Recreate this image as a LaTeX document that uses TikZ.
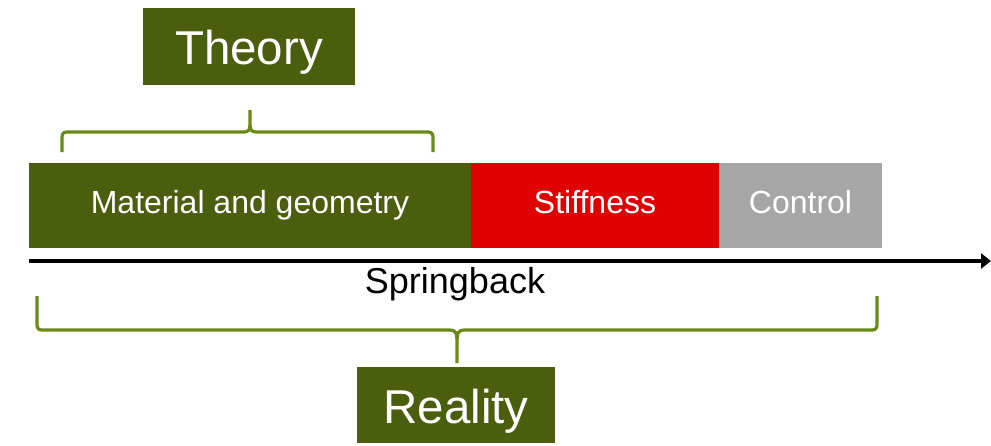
\documentclass[tikz,border=0pt]{standalone}
\usepackage{fontspec}
\setmainfont{Liberation Sans}
\usetikzlibrary{arrows.meta}
\definecolor{olivebox}{HTML}{4A5E0E}
\definecolor{olivebrace}{HTML}{6A8A16}
\definecolor{stiffred}{HTML}{E00000}
\definecolor{ctrlgray}{HTML}{A6A6A6}
\begin{document}
\begin{tikzpicture}[x=1pt,y=-1pt,
  bar/.style={rectangle, inner sep=0pt, minimum height=85pt, text=white,
    text height=15pt, text depth=0pt,
    font=\fontsize{32}{36}\selectfont},
  label/.style={rectangle, fill=olivebox, inner sep=0pt, text=white,
    text depth=0pt, font=\fontsize{47.5}{52}\selectfont},
  brace/.style={draw=olivebrace, line width=3.2pt, line cap=butt, line join=round},
  axis/.style={draw=black, line width=4pt, -{Triangle[length=10pt,width=15pt]}}]
  \useasboundingbox (0,0) rectangle (991,445);

  % the three stages along the process
  \node[bar, fill=olivebox, minimum width=442pt] (mat) at (250,205.5) {Material and geometry};
  \node[bar, fill=stiffred, minimum width=248pt] (stf) at (595,205.5) {Stiffness};
  \node[bar, fill=ctrlgray, minimum width=163pt] (ctl) at (800.5,205.5) {Control};

  % time axis
  \coordinate (ax0) at (29,261);
  \coordinate (ax1) at (991,261);
  \draw[axis] (ax0) -- (ax1);
  \node[anchor=base, inner sep=0pt, font=\fontsize{36}{40}\selectfont] (spr) at (455,293) {Springback};

  % labels
  \node[label, minimum width=212pt, minimum height=77pt, text height=35pt] (thy) at (249,46.5) {Theory};
  \node[label, minimum width=198pt, minimum height=76pt, text height=36pt] (rea) at (456,405) {Reality};

  % upper brace (theory span)
  \draw[brace] (62,152) -- (62,138) .. controls (62,134) and (63,132) .. (67,132)
    -- (244,132) .. controls (248,132) and (250,130) .. (250,125) -- (250,110);
  \draw[brace] (433,152) -- (433,138) .. controls (433,134) and (432,132) .. (428,132)
    -- (256,132) .. controls (252,132) and (250,130) .. (250,125);

  % lower brace (reality span)
  \draw[brace] (37,296) -- (37,324) .. controls (37,328) and (38,330) .. (42,330)
    -- (450,330) .. controls (455,330) and (457,333) .. (457,339) -- (457,363);
  \draw[brace] (877,296) -- (877,324) .. controls (877,328) and (876,330) .. (872,330)
    -- (464,330) .. controls (459,330) and (457,333) .. (457,339);
\end{tikzpicture}
\end{document}
